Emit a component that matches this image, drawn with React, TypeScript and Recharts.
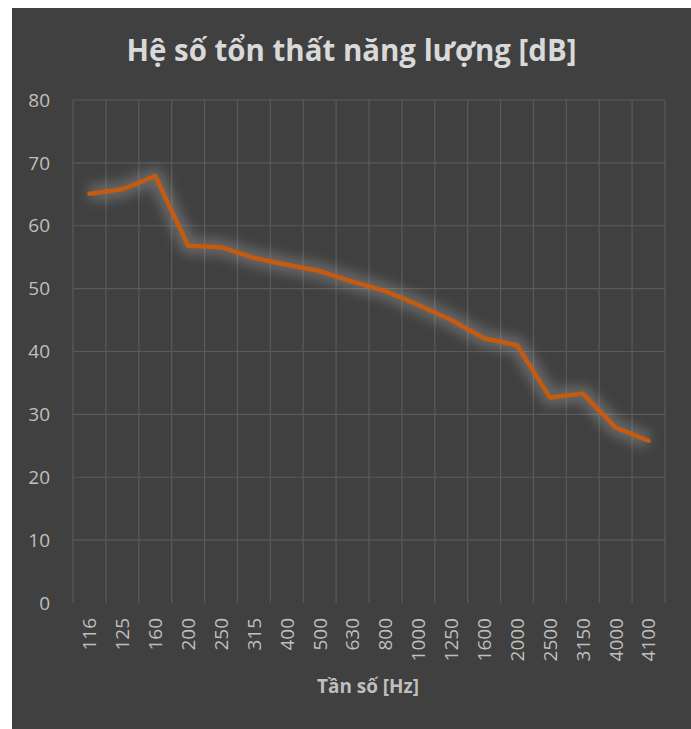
import React from 'react';
import { LineChart, Line, XAxis, YAxis, CartesianGrid } from 'recharts';

const frequencies = ['116', '125', '160', '200', '250', '315', '400', '500', '630', '800', '1000', '1250', '1600', '2000', '2500', '3150', '4000', '4100'];
const lossValues = [65.1, 65.8, 67.9, 56.8, 56.6, 54.9, 53.8, 52.8, 51.1, 49.6, 47.4, 45.0, 42.1, 41.0, 32.7, 33.3, 27.9, 25.8];
const yTicks = [0, 10, 20, 30, 40, 50, 60, 70, 80];
const gridValues = [10, 20, 30, 40, 50, 60, 70, 80];
const yMax = 80;

const data = frequencies.map((f, i) => ({ freq: f, value: lossValues[i] }));

const W = 679;
const H = 721;

const XTick = (props: any) => {
  const { x, y, payload } = props;
  return (
    <text
      transform={`translate(${x},${y}) rotate(-90)`}
      textAnchor="end"
      dy="0.36em"
      fill="#bfbfbf"
      fontSize={19}
      fontFamily="'Open Sans', sans-serif"
    >
      {payload.value}
    </text>
  );
};

export default function App() {
  return (
    <div
      style={{
        position: 'fixed',
        left: 12,
        top: 8,
        width: W,
        height: H,
        background: '#404040',
      }}
    >
      <LineChart
        width={W}
        height={H}
        data={data}
        margin={{ top: 92, right: 26, bottom: 0, left: 0 }}
      >
        <defs>
          <filter id="glowBlur" x="-20%" y="-20%" width="140%" height="140%">
            <feGaussianBlur stdDeviation="6" />
          </filter>
        </defs>
        <text
          x={339.5}
          y={53}
          textAnchor="middle"
          fill="#d9d9d9"
          fontSize={30}
          fontWeight="bold"
          fontFamily="'Open Sans', sans-serif"
          textLength={450}
          lengthAdjust="spacingAndGlyphs"
        >
          Hệ số tổn thất năng lượng [dB]
        </text>
        <text
          x={356}
          y={685}
          textAnchor="middle"
          fill="#bfbfbf"
          fontSize={19}
          fontWeight="bold"
          fontFamily="'Open Sans', sans-serif"
          textLength={102}
          lengthAdjust="spacingAndGlyphs"
        >
          Tần số [Hz]
        </text>
        <CartesianGrid
          stroke="#5a5a5a"
          strokeWidth={1.2}
          verticalCoordinatesGenerator={({ offset }: any) =>
            Array.from({ length: frequencies.length + 1 }, (_, i) => offset.left + (i * offset.width) / frequencies.length)
          }
          horizontalCoordinatesGenerator={({ offset }: any) =>
            gridValues.map((v) => offset.top + offset.height * (1 - v / yMax))
          }
        />
        <XAxis
          dataKey="freq"
          scale="band"
          interval={0}
          axisLine={false}
          tickLine={false}
          tickSize={0}
          tickMargin={15}
          height={126}
          tick={<XTick />}
        />
        <YAxis
          domain={[0, yMax]}
          ticks={yTicks}
          width={61}
          axisLine={false}
          tickLine={false}
          tickSize={0}
          tickMargin={23}
          tick={{ fill: '#bfbfbf', fontSize: 19, fontFamily: "'Open Sans', sans-serif" }}
        />
        <Line
          dataKey="value"
          stroke="#ffffff"
          strokeOpacity={0.2}
          strokeWidth={17}
          dot={false}
          activeDot={false}
          filter="url(#glowBlur)"
          isAnimationActive={false}
          strokeLinejoin="round"
        />
        <Line
          dataKey="value"
          stroke="#c55a11"
          strokeWidth={4.5}
          dot={false}
          activeDot={false}
          isAnimationActive={false}
          strokeLinejoin="round"
          strokeLinecap="round"
        />
      </LineChart>
    </div>
  );
}
